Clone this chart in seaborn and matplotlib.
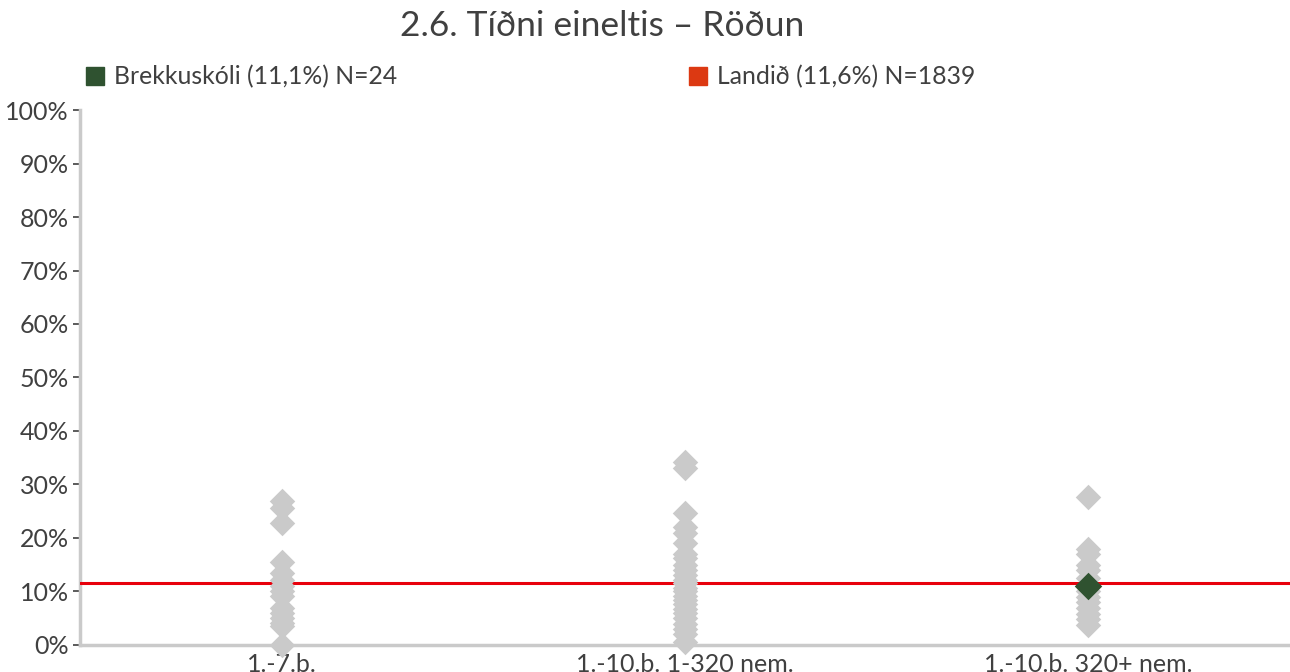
import matplotlib
matplotlib.use("Agg")
import matplotlib.pyplot as plt
from matplotlib.lines import Line2D
import seaborn as sns
import pandas as pd

# School groups on the x axis
categories = ["1.-7.b.", "1.-10.b. 1-320 nem.", "1.-10.b. 320+ nem."]

# Bullying frequency (%) for each school in the group
group_small = [27.0, 25.6, 22.8, 15.6, 13.4, 12.2, 11.0, 10.0, 9.2, 7.0, 6.0,
               5.0, 4.2, 3.5, 0.0]
group_mid = [34.2, 33.0, 24.6, 22.0, 21.0, 19.0, 17.0, 16.3, 15.0, 14.0, 13.0,
             12.2, 11.5, 10.6, 10.0, 9.2, 8.4, 7.6, 6.8, 6.0, 5.0, 4.0, 3.0,
             2.0, 0.6]
group_large = [27.6, 18.0, 17.0, 15.0, 14.0, 12.5, 11.0, 10.0, 9.0, 8.0, 7.0,
               5.8, 4.8, 3.8]

school_name = "Brekkuskóli"
school_group = "1.-10.b. 320+ nem."
school_value = 11.1
school_n = 24

national_value = 11.6
national_n = 1839

yticks = [0, 10, 20, 30, 40, 50, 60, 70, 80, 90, 100]
ytick_labels = [f"{v}%" for v in yticks]

title = "2.6. Tíðni eineltis – Röðun"

# Long-form table for seaborn
df = pd.DataFrame({
    "hópur": [categories[0]] * len(group_small)
             + [categories[1]] * len(group_mid)
             + [categories[2]] * len(group_large),
    "gildi": group_small + group_mid + group_large,
})
df["hópur"] = pd.Categorical(df["hópur"], categories=categories, ordered=True)
school_df = pd.DataFrame({"hópur": pd.Categorical([school_group], categories=categories),
                          "gildi": [school_value]})

sns.set_theme(style="white")
plt.rcParams["font.family"] = ["Lato", "DejaVu Sans"]

GRAY = "#cacaca"
TEXT = "#404040"
GREEN = "#2f5230"
RED = "#e8000b"
LEGEND_RED = "#dc3912"

fig = plt.figure(figsize=(12.9, 6.72), dpi=100)
ax = fig.add_axes([0.062, 0.0402, 0.938, 0.7961])

sns.stripplot(data=df, x="hópur", y="gildi", order=categories, jitter=False,
              marker="D", s=13, color=GRAY, linewidth=0, ax=ax, zorder=3,
              clip_on=False)
ax.axhline(national_value, color=RED, lw=2.2, zorder=2)
sns.stripplot(data=school_df, x="hópur", y="gildi", order=categories, jitter=False,
              marker="D", s=14, color=GREEN, linewidth=0, ax=ax, zorder=4,
              clip_on=False)

ax.set_xlim(-0.5, 2.5)
ax.set_ylim(0, 100)
ax.set_yticks(yticks)
ax.set_yticklabels(ytick_labels)
ax.set_xlabel("")
ax.set_ylabel("")

for side in ("top", "right"):
    ax.spines[side].set_visible(False)
for side in ("left", "bottom"):
    ax.spines[side].set_color(GRAY)
    ax.spines[side].set_linewidth(2.5)
    ax.spines[side].set_zorder(1)

ax.tick_params(axis="y", which="both", left=True, length=5, width=1.2,
               color=TEXT, labelsize=18, labelcolor=TEXT, pad=3)
ax.tick_params(axis="x", which="both", bottom=False, labelsize=18,
               labelcolor=TEXT, pad=0)

fig.suptitle(title, x=0.467, y=0.985, fontsize=25.5, color=TEXT, va="top")

h1 = Line2D([], [], marker="s", ls="none", color=GREEN, markersize=12.5)
h2 = Line2D([], [], marker="s", ls="none", color=LEGEND_RED, markersize=12.5)
leg1 = fig.legend([h1], [f"{school_name} ({school_value:.1f}%) N={school_n}".replace(".", ",")],
                  loc="center left", bbox_to_anchor=(0.066, 0.886), frameon=False,
                  fontsize=17.8, handlelength=0.8, handletextpad=0.35,
                  borderpad=0, borderaxespad=0, labelcolor=TEXT)
leg2 = fig.legend([h2], [f"Landið ({national_value:.1f}%) N={national_n}".replace(".", ",")],
                  loc="center left", bbox_to_anchor=(0.5335, 0.886), frameon=False,
                  fontsize=17.8, handlelength=0.8, handletextpad=0.35,
                  borderpad=0, borderaxespad=0, labelcolor=TEXT)

fig.savefig("out.png", dpi=100)
